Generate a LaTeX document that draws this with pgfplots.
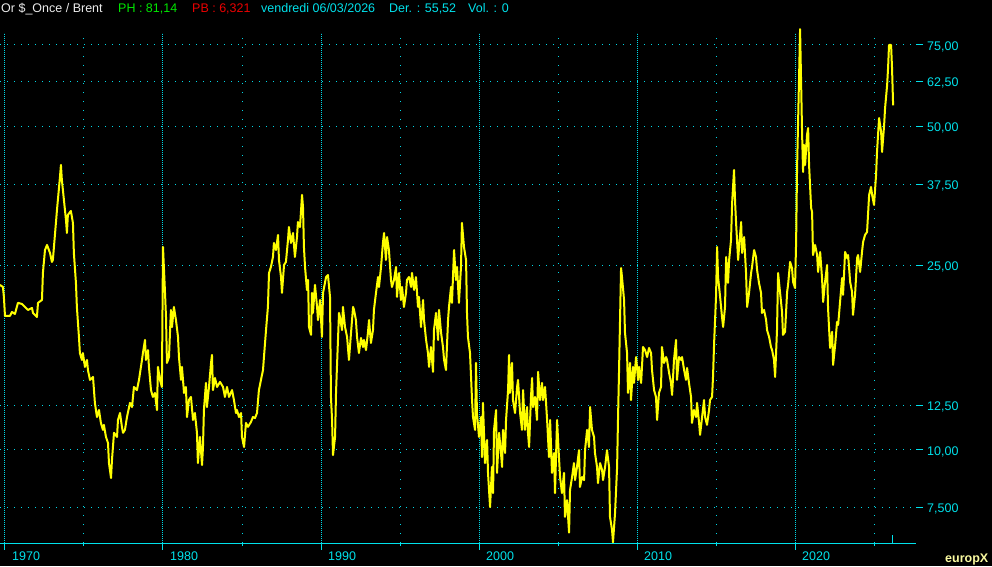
\documentclass[border=0pt]{standalone}
\usepackage{pgfplots}
\pgfplotsset{compat=1.18}
\usepackage{pgfplotstable}
\usepackage{fontspec}
\setmainfont{Liberation Sans}
\definecolor{cy}{RGB}{0,225,235}
\definecolor{gridc}{RGB}{0,215,230}
\definecolor{yl}{RGB}{255,255,0}
\definecolor{gr}{RGB}{0,230,0}
\definecolor{rd}{RGB}{235,0,0}
\definecolor{wh}{RGB}{235,235,235}
\definecolor{ey}{RGB}{250,250,160}
\pgfplotstableread{
year value
1969.68 22.73
1969.87 22.50
1969.93 21.41
1970.00 19.48
1970.31 19.48
1970.44 19.87
1970.63 19.68
1970.82 20.79
1971.07 20.68
1971.26 20.37
1971.45 20.07
1971.71 20.27
1971.77 19.78
1972.02 19.38
1972.09 20.79
1972.34 21.09
1972.40 24.12
1972.53 27.04
1972.66 27.73
1972.85 26.64
1972.97 25.48
1973.03 25.73
1973.16 29.14
1973.29 33.01
1973.48 38.90
1973.54 41.29
1973.60 38.31
1973.73 34.68
1973.86 31.40
1973.92 29.43
1973.98 32.20
1974.17 32.84
1974.30 30.94
1974.36 26.64
1974.49 22.96
1974.55 20.37
1974.68 17.55
1974.74 16.20
1974.87 15.65
1974.93 16.20
1975.06 15.12
1975.19 15.65
1975.25 14.89
1975.38 14.17
1975.57 14.38
1975.69 12.64
1975.82 11.78
1975.95 12.20
1976.07 11.44
1976.20 11.05
1976.26 11.33
1976.39 10.67
1976.52 10.35
1976.58 9.37
1976.71 8.70
1976.77 9.51
1976.90 10.89
1977.09 10.67
1977.15 11.61
1977.28 12.02
1977.40 11.22
1977.47 10.89
1977.59 11.05
1977.72 11.78
1977.91 12.64
1978.04 12.38
1978.16 13.68
1978.35 13.47
1978.48 14.17
1978.67 15.65
1978.73 16.20
1978.86 17.29
1978.92 15.65
1979.05 16.44
1979.11 15.12
1979.24 13.47
1979.36 13.02
1979.49 13.28
1979.62 12.20
1979.68 15.12
1979.81 14.17
1979.93 13.68
1980.00 27.45
1980.12 22.17
1980.19 19.38
1980.25 15.42
1980.38 15.88
1980.50 20.07
1980.57 18.44
1980.69 20.37
1980.82 19.09
1980.95 17.55
1981.01 15.88
1981.14 14.17
1981.20 15.12
1981.33 13.28
1981.45 13.68
1981.52 11.78
1981.64 12.82
1981.77 13.02
1981.90 11.61
1982.02 12.02
1982.15 10.89
1982.21 9.37
1982.34 10.67
1982.47 9.28
1982.53 10.15
1982.59 12.20
1982.72 13.96
1982.78 12.38
1982.91 13.68
1983.04 15.42
1983.10 16.04
1983.16 13.47
1983.29 14.31
1983.42 13.68
1983.61 14.03
1983.80 13.68
1983.92 13.02
1984.05 13.68
1984.18 13.02
1984.37 13.47
1984.49 12.82
1984.62 12.02
1984.68 12.20
1984.81 11.78
1984.94 12.02
1985.00 10.67
1985.13 10.15
1985.25 11.44
1985.38 11.22
1985.57 11.50
1985.69 11.78
1985.82 11.72
1985.95 12.02
1986.07 13.47
1986.20 14.17
1986.33 14.89
1986.39 15.88
1986.52 18.16
1986.64 20.37
1986.71 24.12
1986.83 24.85
1986.96 26.12
1987.02 28.01
1987.15 27.04
1987.28 29.14
1987.34 25.73
1987.47 23.64
1987.53 21.85
1987.66 25.10
1987.78 25.48
1987.91 28.42
1987.97 30.32
1988.10 28.01
1988.23 29.43
1988.35 26.12
1988.48 28.85
1988.54 31.09
1988.67 30.32
1988.80 35.57
1988.86 33.50
1988.92 27.45
1988.99 24.85
1989.11 22.17
1989.18 23.30
1989.24 18.44
1989.37 17.73
1989.43 21.85
1989.49 19.78
1989.62 22.73
1989.75 20.37
1989.81 19.09
1989.94 21.09
1990.06 17.55
1990.13 21.85
1990.32 23.64
1990.44 23.88
1990.57 21.41
1990.63 13.02
1990.70 11.61
1990.76 9.75
1990.89 10.67
1990.95 13.28
1991.01 15.12
1991.14 19.78
1991.20 19.38
1991.33 18.16
1991.39 20.37
1991.52 18.44
1991.65 17.55
1991.77 15.65
1991.90 17.91
1992.03 20.37
1992.09 20.07
1992.21 19.09
1992.28 17.55
1992.40 16.20
1992.53 17.46
1992.66 16.69
1992.72 17.29
1992.85 16.44
1992.97 17.91
1993.04 19.09
1993.16 17.03
1993.29 18.16
1993.35 20.07
1993.48 21.85
1993.61 23.64
1993.67 22.50
1993.80 24.85
1993.92 28.01
1993.99 29.43
1994.11 25.73
1994.18 28.85
1994.30 27.04
1994.43 23.30
1994.49 22.50
1994.62 23.30
1994.75 24.85
1994.81 21.41
1994.94 24.12
1995.06 21.09
1995.13 22.50
1995.25 20.37
1995.38 21.85
1995.44 23.30
1995.57 23.64
1995.70 22.50
1995.76 24.12
1995.89 22.17
1996.01 23.64
1996.14 20.37
1996.20 21.41
1996.33 18.44
1996.46 21.09
1996.52 19.09
1996.65 17.29
1996.77 16.20
1996.84 15.12
1996.96 16.69
1997.09 14.75
1997.15 18.16
1997.28 19.78
1997.41 17.29
1997.47 20.07
1997.60 17.91
1997.72 16.69
1997.79 15.65
1997.91 14.89
1998.04 19.09
1998.10 20.37
1998.23 22.50
1998.29 20.79
1998.42 27.04
1998.54 23.30
1998.61 24.85
1998.73 20.79
1998.86 24.85
1998.92 30.94
1999.05 27.45
1999.18 25.73
1999.24 19.78
1999.30 17.55
1999.43 16.20
1999.56 12.82
1999.62 11.78
1999.75 11.05
1999.81 15.42
1999.87 12.02
2000.00 10.67
2000.13 11.78
2000.19 9.65
2000.25 12.64
2000.38 9.37
2000.51 10.51
2000.57 8.92
2000.70 7.53
2000.82 9.19
2000.89 8.07
2000.95 11.05
2001.08 12.20
2001.14 8.92
2001.27 10.89
2001.39 9.85
2001.46 9.19
2001.52 11.05
2001.65 9.85
2001.71 11.61
2001.84 13.47
2001.90 16.04
2001.96 13.28
2002.09 15.42
2002.15 12.82
2002.28 12.02
2002.41 13.68
2002.47 14.17
2002.60 12.02
2002.72 11.05
2002.79 13.47
2002.91 11.05
2003.04 12.38
2003.10 10.89
2003.17 10.15
2003.29 13.02
2003.36 14.31
2003.42 12.38
2003.55 13.02
2003.67 11.61
2003.74 14.75
2003.86 12.82
2003.99 13.96
2004.05 12.82
2004.18 13.68
2004.31 11.61
2004.43 9.65
2004.50 11.61
2004.62 8.92
2004.75 9.85
2004.81 8.07
2004.94 11.61
2005.06 9.65
2005.13 8.74
2005.25 8.07
2005.38 8.92
2005.44 7.17
2005.57 7.79
2005.70 6.63
2005.76 8.19
2005.89 8.74
2006.01 9.37
2006.08 8.61
2006.20 9.19
2006.33 9.99
2006.39 8.32
2006.52 8.74
2006.65 8.61
2006.71 9.99
2006.84 11.05
2006.96 10.15
2007.03 12.38
2007.15 11.05
2007.28 10.67
2007.34 9.85
2007.47 9.19
2007.53 8.48
2007.66 9.37
2007.79 9.05
2007.85 8.61
2007.98 9.19
2008.10 9.99
2008.23 9.19
2008.29 7.17
2008.42 6.72
2008.48 6.32
2008.61 7.31
2008.74 9.19
2008.80 11.78
2008.86 14.68
2008.99 24.72
2009.05 23.64
2009.18 21.09
2009.24 17.91
2009.37 16.20
2009.43 13.28
2009.56 15.42
2009.62 12.82
2009.75 15.12
2009.81 13.96
2009.94 15.88
2010.07 14.17
2010.13 15.12
2010.26 13.96
2010.38 16.69
2010.51 16.44
2010.64 15.88
2010.76 16.61
2010.89 16.20
2010.95 14.89
2011.08 13.47
2011.20 13.02
2011.27 11.61
2011.39 13.28
2011.52 13.68
2011.58 16.69
2011.71 15.42
2011.84 15.88
2011.90 15.65
2012.03 14.68
2012.15 13.96
2012.22 13.15
2012.34 15.65
2012.47 17.29
2012.53 14.17
2012.66 15.88
2012.79 15.65
2012.85 15.88
2012.98 14.89
2013.10 14.17
2013.17 15.04
2013.29 13.96
2013.42 13.02
2013.48 11.44
2013.61 12.20
2013.74 11.78
2013.80 12.64
2013.93 11.44
2013.99 10.78
2014.12 11.78
2014.24 12.82
2014.31 11.78
2014.43 11.33
2014.56 12.20
2014.62 12.82
2014.75 13.02
2014.81 14.38
2014.88 17.03
2015.00 21.41
2015.07 27.45
2015.13 23.64
2015.26 21.41
2015.38 19.38
2015.45 18.44
2015.57 20.37
2015.64 26.12
2015.76 22.96
2015.83 25.73
2015.95 28.42
2016.02 34.18
2016.14 40.26
2016.21 34.18
2016.27 30.94
2016.40 25.73
2016.46 27.45
2016.59 31.09
2016.65 26.64
2016.78 28.85
2016.90 24.12
2016.97 20.37
2017.09 21.85
2017.22 24.12
2017.28 24.85
2017.41 27.04
2017.53 26.12
2017.60 24.47
2017.72 22.96
2017.85 21.85
2017.91 19.78
2018.04 20.07
2018.17 19.09
2018.23 18.16
2018.36 17.55
2018.48 16.69
2018.55 16.44
2018.67 15.65
2018.74 14.38
2018.86 18.16
2018.93 24.12
2019.05 21.95
2019.18 19.87
2019.24 17.73
2019.37 18.00
2019.50 21.95
2019.56 22.73
2019.69 25.48
2019.81 24.72
2019.88 23.07
2020.00 22.39
2020.07 28.15
2020.13 40.67
2020.26 64.60
2020.32 81.14
2020.38 63.63
2020.45 47.93
2020.51 39.88
2020.57 45.60
2020.64 41.29
2020.76 47.93
2020.83 49.61
2020.89 41.29
2021.02 33.33
2021.08 32.68
2021.14 26.38
2021.27 27.73
2021.40 26.38
2021.46 24.24
2021.59 26.78
2021.71 23.52
2021.78 20.89
2021.90 23.07
2022.03 25.10
2022.09 20.27
2022.22 16.61
2022.35 18.00
2022.41 15.27
2022.54 16.86
2022.66 18.91
2022.73 18.63
2022.85 20.89
2022.98 23.52
2023.04 21.63
2023.17 26.78
2023.30 25.98
2023.36 26.38
2023.49 23.07
2023.61 21.95
2023.67 19.58
2023.80 21.63
2023.93 25.98
2023.99 26.38
2024.12 24.24
2024.24 26.78
2024.31 28.15
2024.43 29.14
2024.56 29.58
2024.62 32.20
2024.69 35.57
2024.81 37.01
2024.88 35.57
2025.00 33.84
2025.13 39.29
2025.19 44.04
2025.32 52.15
2025.45 48.65
2025.51 44.04
2025.64 50.37
2025.70 54.81
2025.83 61.46
2025.89 66.88
2025.95 75.00
2026.08 75.00
2026.14 66.88
2026.21 55.52
}\ratio
\begin{document}
\begin{tikzpicture}
\useasboundingbox (0pt,0pt) rectangle (992pt,566pt);
\fill[black] (0pt,0pt) rectangle (992pt,566pt);
\begin{axis}[
  at={(0pt,23pt)}, anchor=south west,
  width=916pt, height=510pt, scale only axis,
  xmin=1969.684, xmax=2027.658,
  ymode=log, ymin=6.2955, ymax=79.61,
  clip=false,
  axis x line*=bottom, axis y line*=right,
  x axis line style={cy, line width=1pt, -},
  y axis line style={draw=none},
  xtick={1970,1980,1990,2000,2010,2020},
  xticklabels={1970,1980,1990,2000,2010,2020},
  minor xtick={1975,1985,1995,2005,2015,2025},
  ytick={7.5,10,12.5,25,37.5,50,62.5,75},
  yticklabels={{7,500},{10,00},{12,50},{25,00},{37,50},{50,00},{62,50},{75,00}},
  tick align=outside,
  major tick length=7pt, minor tick length=3pt,
  tick style={cy, line width=1pt},
  xmajorgrids, xminorgrids, ymajorgrids,
  major x grid style={gridc, line width=1pt, dash pattern=on 1pt off 1pt},
  minor x grid style={gridc, line width=1pt, dash pattern=on 1pt off 8pt},
  major y grid style={gridc, line width=1pt, dash pattern=on 1pt off 6pt},
  ticklabel style={font=\fontsize{12.5}{14}\selectfont, text=cy, inner sep=0pt},
  xticklabel style={anchor=base west, xshift=7pt, yshift=-11pt},
  yticklabel style={anchor=mid west, xshift=4pt, yshift=-2.5pt},
  extra x ticks={2026.2},
  extra x tick labels={},
  extra x tick style={grid=none, tick align=inside, major tick length=8pt},
]
\addplot[yl, line width=2pt, line join=round, no markers] table[x=year, y=value] {\ratio};
\end{axis}
\begin{scope}[every node/.style={anchor=base west, inner sep=0pt, font=\fontsize{12.5}{14}\selectfont}]
\node[text=wh] at (1pt,553pt) {Or \$\_Once / Brent};
\node[text=gr] at (118pt,553pt) {PH : 81,14};
\node[text=rd] at (192pt,553pt) {PB : 6,321};
\node[text=cy] at (261pt,553pt) {vendredi 06/03/2026};
\node[text=cy] at (389pt,553pt) {Der. : 55,52};
\node[text=cy] at (468pt,553pt) {Vol. : 0};
\node[text=ey, font=\fontsize{12.5}{14}\selectfont\bfseries] at (945pt,4pt) {europX};
\end{scope}
\end{tikzpicture}
\end{document}
